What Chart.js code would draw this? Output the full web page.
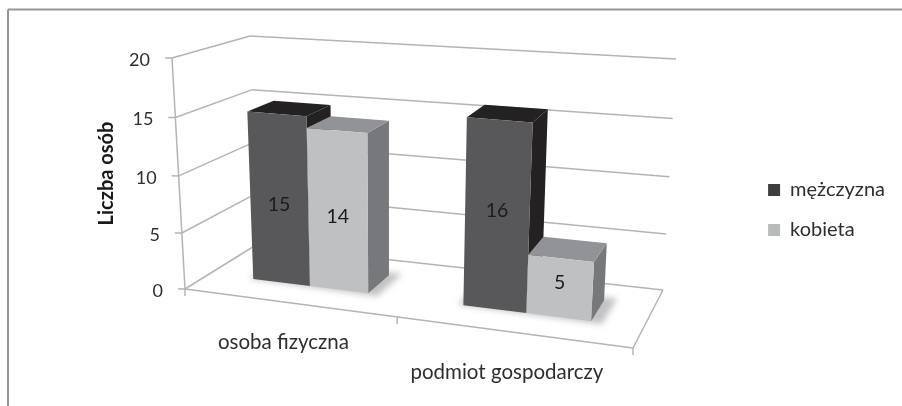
<!DOCTYPE html>
<html>
<head>
<meta charset="utf-8">
<script src="https://cdn.jsdelivr.net/npm/chart.js@4"></script>
<style>
  html, body { margin: 0; background: #fff; }
  canvas { display: block; filter: blur(0.4px); }
</style>
</head>
<body>
<canvas id="chart" width="902" height="406"></canvas>
<script>
const categories = ['osoba fizyczna', 'podmiot gospodarczy'];
const seriesNames = ['mężczyzna', 'kobieta'];
const menValues = [15, 16];
const womenValues = [14, 5];
const axisTitle = 'Liczba osób';

const fontName = 'Lato, "Open Sans", sans-serif';
const textColor = '#2e2e2e';
const gridColor = '#b4b4b6';

// screen corners of the 3d box: floor (0) and ceiling (1), front and back
const box = {
    fl0: [185, 289], fr0: [633, 348], bl0: [256, 245], br0: [663, 290],
    fl1: [172, 58], fr1: [649, 93], bl1: [250, 36], br1: [676, 59]
};
const barFront = 0.35, barBack = 0.72;

const faces = [
    { front: '#58585a', top: '#232122', side: '#232122' },
    { front: '#bfc0c2', top: '#929396', side: '#77787b' }
];

function mix(a, b, t) {
    return [a[0] + (b[0] - a[0]) * t, a[1] + (b[1] - a[1]) * t];
}

// u across the categories, w into the depth, v up the value axis (all 0..1)
function project(u, w, v) {
    const warpU = 0.9 * u / (1 - 0.1 * u);
    const warpV = 0.96 * v / (1 - 0.04 * v);
    const front = mix(mix(box.fl0, box.fr0, warpU), mix(box.fl1, box.fr1, warpU), warpV);
    const back = mix(mix(box.bl0, box.br0, warpU), mix(box.bl1, box.br1, warpU), warpV);
    return mix(front, back, w);
}

function line(ctx, a, b) {
    ctx.beginPath();
    ctx.moveTo(a[0], a[1]);
    ctx.lineTo(b[0], b[1]);
    ctx.stroke();
}

function poly(ctx, pts, color) {
    ctx.fillStyle = color;
    ctx.beginPath();
    pts.forEach(function(p, i) {
        if (i === 0) ctx.moveTo(p[0], p[1]);
        else ctx.lineTo(p[0], p[1]);
    });
    ctx.closePath();
    ctx.fill();
}

const box3d = {
    id: 'box3d',
    beforeDatasetsDraw: function(chart) {
        const ctx = chart.ctx;
        const xs = chart.scales.x;
        const ys = chart.scales.y;
        const toU = function(px) { return (px - xs.left) / xs.width; };
        const toV = function(px) { return (ys.bottom - px) / ys.height; };

        ctx.save();

        // frame, only top and left are inside the crop
        ctx.strokeStyle = '#969696';
        ctx.lineWidth = 2;
        line(ctx, [8, 9.5], [902, 9.5]);
        line(ctx, [8, 9.5], [8, 406]);

        // walls and floor
        ctx.strokeStyle = gridColor;
        ctx.lineWidth = 1.5;
        ctx.textBaseline = 'middle';
        ctx.textAlign = 'right';
        ctx.font = '18px ' + fontName;
        ys.ticks.forEach(function(tick) {
            const v = toV(ys.getPixelForValue(tick.value));
            const a = project(0, 0, v);
            const b = project(0, 1, v);
            const c = project(1, 1, v);
            line(ctx, [a[0] - 7, a[1]], a);
            line(ctx, a, b);
            line(ctx, b, c);
            ctx.fillStyle = textColor;
            ctx.fillText(tick.label, a[0] - 22, a[1] + 2);
        });
        line(ctx, project(0, 0, 0), project(0, 0, 1));
        line(ctx, project(0, 0, 0), project(1, 0, 0));
        line(ctx, project(1, 0, 0), project(1, 1, 0));

        const centers = xs.ticks.map(function(t, i) { return xs.getPixelForTick(i); });
        const edges = [xs.left, (centers[0] + centers[1]) / 2, xs.right];
        edges.forEach(function(px) {
            const p = project(toU(px), 0, 0);
            line(ctx, p, [p[0], p[1] + 7]);
        });

        // category labels
        ctx.textAlign = 'center';
        ctx.font = '20.5px ' + fontName;
        ctx.fillStyle = textColor;
        centers.forEach(function(px, i) {
            const p = project(toU(px), 0, 0);
            ctx.fillText(categories[i], p[0] - 5, p[1] + 40);
        });

        // value axis title
        ctx.save();
        ctx.translate(107, 173.5);
        ctx.rotate(-Math.PI / 2);
        ctx.font = 'bold 20px ' + fontName;
        ctx.fillStyle = '#1a1a1a';
        ctx.fillText(axisTitle, 0, 0);
        ctx.restore();

        // soft shadow under each pair of bars
        const metas = chart.data.datasets.map(function(d, i) { return chart.getDatasetMeta(i); });
        ctx.save();
        ctx.filter = 'blur(3px)';
        centers.forEach(function(px, i) {
            const first = metas[0].data[i];
            const last = metas[metas.length - 1].data[i];
            const u0 = toU(first.x - first.width / 2) - 0.012;
            const u1 = toU(last.x + last.width / 2) + 0.025;
            poly(ctx, [project(u0, barFront, 0), project(u1, barFront - 0.03, 0),
                project(u1, barBack + 0.05, 0), project(u0, barBack + 0.05, 0)], 'rgba(120,120,122,0.45)');
        });
        ctx.restore();

        // bars, darker series first so the lighter one sits against it
        centers.forEach(function(px, i) {
            metas.forEach(function(meta, s) {
                const el = meta.data[i];
                const u0 = toU(el.x - el.width / 2);
                const u1 = toU(el.x + el.width / 2);
                const v = toV(el.y);
                const c = faces[s];
                poly(ctx, [project(u1, barFront, 0), project(u1, barBack, 0),
                    project(u1, barBack, v), project(u1, barFront, v)], c.side);
                poly(ctx, [project(u0, barFront, v), project(u1, barFront, v),
                    project(u1, barBack, v), project(u0, barBack, v)], c.top);
                poly(ctx, [project(u0, barFront, 0), project(u1, barFront, 0),
                    project(u1, barFront, v), project(u0, barFront, v)], c.front);
            });
        });

        // values on the front faces, the second group sits a little higher
        ctx.font = '19.5px ' + fontName;
        ctx.fillStyle = '#1c1c1c';
        centers.forEach(function(px, i) {
            metas.forEach(function(meta) {
                const el = meta.data[i];
                const p = project(toU(el.x), barFront, toV(el.y) / 2);
                const nudge = i === 0 ? 5 : -5;
                ctx.fillText(String(chart.data.datasets[meta.index].data[i]), p[0], p[1] + nudge);
            });
        });

        ctx.restore();
        // the faces above replace the flat bars
        return false;
    }
};

new Chart(document.getElementById('chart'), {
    type: 'bar',
    data: {
        labels: categories,
        datasets: [
            { label: seriesNames[0], data: menValues, backgroundColor: '#3e3e40', borderWidth: 0 },
            { label: seriesNames[1], data: womenValues, backgroundColor: '#b9babc', borderWidth: 0 }
        ]
    },
    options: {
        responsive: false,
        animation: false,
        layout: { padding: { left: 120, right: 7, top: 20, bottom: 6 } },
        datasets: { bar: { categoryPercentage: 0.56, barPercentage: 1 } },
        scales: {
            x: { display: false },
            y: { display: false, min: 0, max: 20, ticks: { stepSize: 5 } }
        },
        plugins: {
            tooltip: { enabled: false },
            legend: {
                position: 'right',
                labels: {
                    boxWidth: 12,
                    boxHeight: 12,
                    padding: 20,
                    color: textColor,
                    font: { family: fontName, size: 20 }
                }
            }
        }
    },
    plugins: [box3d]
});
</script>
</body>
</html>
